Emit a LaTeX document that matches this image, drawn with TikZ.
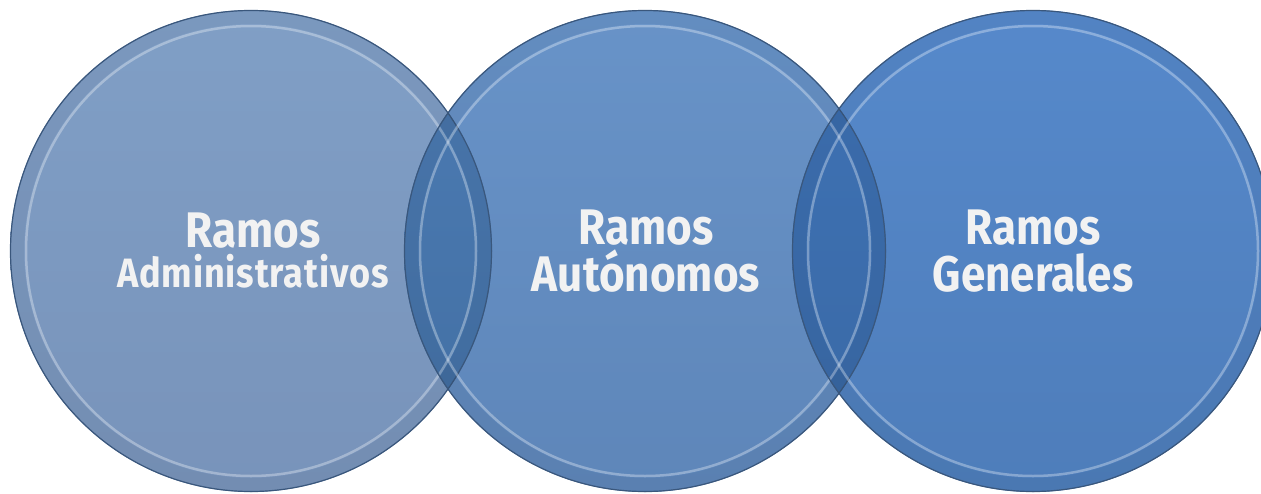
\documentclass[tikz,border=0pt]{standalone}
\usepackage{fontspec}
\setmainfont{Fira Sans}
\newfontfamily\ramofont[FakeStretch=0.88]{Fira Sans Bold}
\usepackage{tikz}
\definecolor{ramoA}{HTML}{809FC6}
\definecolor{ramoAd}{HTML}{7893BA}
\definecolor{ramoB}{HTML}{6893C8}
\definecolor{ramoBd}{HTML}{5E86B9}
\definecolor{ramoC}{HTML}{5689CB}
\definecolor{ramoCd}{HTML}{4E7DBA}
\definecolor{lensAB}{HTML}{4C7BB3}
\definecolor{lensABd}{HTML}{426FA3}
\definecolor{lensBC}{HTML}{3E72B5}
\definecolor{lensBCd}{HTML}{3A69A5}
\definecolor{rimdark}{HTML}{3A577C}
\definecolor{ramotext}{HTML}{F2F2F2}
\tikzset{
  ramo/.style = {circle, inner sep=0pt, minimum size=482pt},
  rimline/.style = {draw=rimdark, line width=1.2pt},
  rimband/.style = {draw=black, draw opacity=0.04, line width=14pt},
  rimlight/.style = {draw=white, draw opacity=0.32, line width=2.5pt},
  ramolabel/.style = {anchor=base, inner sep=0pt, text=ramotext, font=\ramofont\fontsize{50}{50}\selectfont},
  ramosmall/.style = {ramolabel, font=\ramofont\fontsize{41}{41}\selectfont\addfontfeature{LetterSpace=2}},
}

\begin{document}
\begin{tikzpicture}[x=1pt, y=-1pt]
\useasboundingbox (0,0) rectangle (1261,493);
% the three circles
\node [ramo, top color=ramoA, bottom color=ramoAd] (A) at (251,251) {};
\node [ramo, top color=ramoB, bottom color=ramoBd] (B) at (645,251) {};
\node [ramo, top color=ramoC, bottom color=ramoCd] (C) at (1033,251) {};
% overlaps
\begin{scope}
  \clip (A.center) circle [radius=241];
  \shade [top color=lensAB, bottom color=lensABd] (B.center) circle [radius=241];
\end{scope}
\begin{scope}
  \clip (B.center) circle [radius=241];
  \shade [top color=lensBC, bottom color=lensBCd] (C.center) circle [radius=241];
\end{scope}
% bevel rims
\foreach \c in {A,B,C} {
  \path [rimband] (\c.center) circle [radius=234];
  \path [rimlight] (\c.center) circle [radius=225];
  \path [rimline] (\c.center) circle [radius=240.5];
}
% labels
\node [ramolabel] (tA) at (253,247) {Ramos};
\node [ramosmall] (tA2) at (253,287) {Administrativos};
\node [ramolabel] (tB) at (646,244) {Ramos};
\node [ramolabel] (tB2) at (646,291) {Autónomos};
\node [ramolabel] (tC) at (1033,244) {Ramos};
\node [ramolabel] (tC2) at (1033,291) {Generales};
\end{tikzpicture}
\end{document}
